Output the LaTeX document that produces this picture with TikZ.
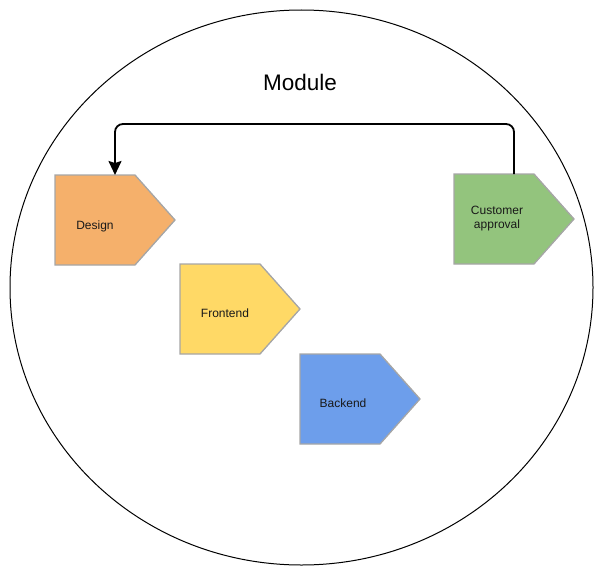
\documentclass[tikz,border=0pt]{standalone}
\usepackage{fontspec}
\setmainfont{Liberation Sans}
\usetikzlibrary{arrows.meta,calc}
\definecolor{cdesign}{HTML}{F5B06B}
\definecolor{cfront}{HTML}{FFD966}
\definecolor{cback}{HTML}{6D9EEB}
\definecolor{capprove}{HTML}{93C47D}
\definecolor{cstroke}{HTML}{A6A6A6}
\tikzset{
  stepnode/.style={draw=none, minimum width=120pt, minimum height=90pt, inner sep=0pt, outer sep=0pt},
  steplabel/.style={font=\fontsize{12}{14}\selectfont, align=center, inner sep=0pt, text=black!90},
  steppoly/.style={draw=cstroke, line width=1.3pt, line join=miter},
  conn/.style={draw=black, line width=1.8pt, rounded corners=8pt, -{Stealth[length=14pt,width=13pt,inset=2pt]}},
}
\newcommand{\pentashape}[2]{%
  \path[steppoly, fill=#2] (#1.north west) -- ($(#1.north east)+(-40pt,0)$) -- (#1.east)
    -- ($(#1.south east)+(-40pt,0)$) -- (#1.south west) -- cycle;}
\begin{document}
\begin{tikzpicture}[x=1pt,y=-1pt]
\useasboundingbox (0,0) rectangle (613,586);
\draw[line width=1pt] (301.5,287.5) ellipse [x radius=291.5, y radius=277.5];
\node[font=\fontsize{22.5}{26}\selectfont, inner sep=0pt] (module) at (300,82) {Module};
\node[stepnode] (design) at (115,220) {};
\node[stepnode] (frontend) at (240,309) {};
\node[stepnode] (backend) at (360,399) {};
\node[stepnode] (approval) at (514,219) {};
\pentashape{design}{cdesign}
\pentashape{frontend}{cfront}
\pentashape{backend}{cback}
\pentashape{approval}{capprove}
\node[steplabel] (designlbl) at ($(design.west)+(40,6)$) {Design};
\node[steplabel] (frontendlbl) at ($(frontend.west)+(45,4)$) {Frontend};
\node[steplabel] (backendlbl) at ($(backend.west)+(43,4)$) {Backend};
\node[steplabel] (approvallbl) at ($(approval.west)+(43,0)$) {Customer\\approval};
\coordinate (looptop) at (0,124);
\draw[conn] (approval.north) -- (approval.north |- looptop) -- (design.north |- looptop) -- (design.north);
\end{tikzpicture}
\end{document}
